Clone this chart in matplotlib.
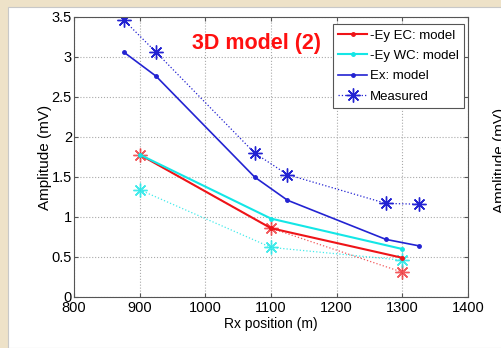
import matplotlib.pyplot as plt
import matplotlib.patches as patches

plt.rcParams['font.family'] = ['Liberation Sans', 'DejaVu Sans']

# model curves
ec_x = [900, 1100, 1300]
ec_model = [1.78, 0.86, 0.49]
wc_x = [900, 1100, 1300]
wc_model = [1.78, 0.98, 0.60]
ex_x = [876, 925, 1075, 1125, 1275, 1325]
ex_model = [3.06, 2.76, 1.50, 1.21, 0.72, 0.64]

# measured values
ec_meas = [1.78, 0.86, 0.31]
wc_meas = [1.34, 0.62, 0.46]
ex_meas = [3.46, 3.06, 1.80, 1.53, 1.17, 1.16]

x_ticks = [800, 900, 1000, 1100, 1200, 1300, 1400]
y_ticks = [0, 0.5, 1, 1.5, 2, 2.5, 3, 3.5]
y_labels = ['0', '0.5', '1', '1.5', '2', '2.5', '3', '3.5']

red = '#ee1418'
cyan = '#14e6e6'
blue = '#2323d2'
star = (8, 2, 0)

fig = plt.figure(figsize=(5.02, 3.48), dpi=100)
fig.patch.set_facecolor('#eee2c8')
# white slide panel
panel = patches.Rectangle((8 / 502, 0), 1, 1 - 7 / 348, transform=fig.transFigure,
                          facecolor='white', edgecolor='#c8c8c8', lw=0.8, zorder=-10)
fig.patches.append(panel)

ax = fig.add_axes([74 / 502, 1 - 297 / 348, 394 / 502, 280 / 348])
ax.set_facecolor('white')

ax.plot(ec_x, ec_meas, ':', color=red, lw=0.9, alpha=0.7, marker=star, ms=10, mew=1.0, mec=red)
ax.plot(wc_x, wc_meas, ':', color=cyan, lw=0.9, alpha=0.8, marker=star, ms=10, mew=1.0, mec=cyan)
ex_meas_line, = ax.plot(ex_x, ex_meas, ':', color=blue, lw=0.9, marker=star, ms=10, mew=1.0, mec=blue)

ec_line, = ax.plot(ec_x, ec_model, '-', color=red, lw=1.5, marker='.', ms=5)
wc_line, = ax.plot(wc_x, wc_model, '-', color=cyan, lw=1.5, marker='.', ms=5)
ex_line, = ax.plot(ex_x, ex_model, '-', color=blue, lw=1.2, marker='.', ms=5)

ax.set_xlim(800, 1400)
ax.set_ylim(0, 3.5)
ax.set_xticks(x_ticks)
ax.set_yticks(y_ticks)
ax.set_yticklabels(y_labels)
ax.tick_params(direction='in', length=3, labelsize=10.5, pad=1.5, top=True, right=True, color='#555555')
ax.tick_params(axis='x', pad=3)
ax.grid(True, linestyle=':', color='#aaaaaa', lw=0.8)
for s in ax.spines.values():
    s.set_color('#555555')

ax.set_xlabel('Rx position (m)', fontsize=10, labelpad=1)
ax.set_ylabel('Amplitude (mV)', fontsize=11, labelpad=0)

ax.text(0.299, 0.885, '3D model (2)', transform=ax.transAxes, color='#ff1010',
        fontsize=15.5, fontweight='bold')

leg = ax.legend([ec_line, wc_line, ex_line, ex_meas_line],
                ['-Ey EC: model', '-Ey WC: model', 'Ex: model', 'Measured'],
                loc='upper right', bbox_to_anchor=(0.99, 0.975), fontsize=9.5,
                fancybox=False, framealpha=1, edgecolor='#555555', borderpad=0.4,
                labelspacing=0.62, handlelength=2.2, handletextpad=0.2, borderaxespad=0)
leg.get_frame().set_linewidth(0.8)

# partial label of neighbouring chart at the right edge
fig.text(493 / 502, 1 - 160 / 348, 'Amplitude (mV)', rotation=90, fontsize=11,
         ha='left', va='center')

fig.savefig('out.png', dpi=100, facecolor=fig.get_facecolor())
